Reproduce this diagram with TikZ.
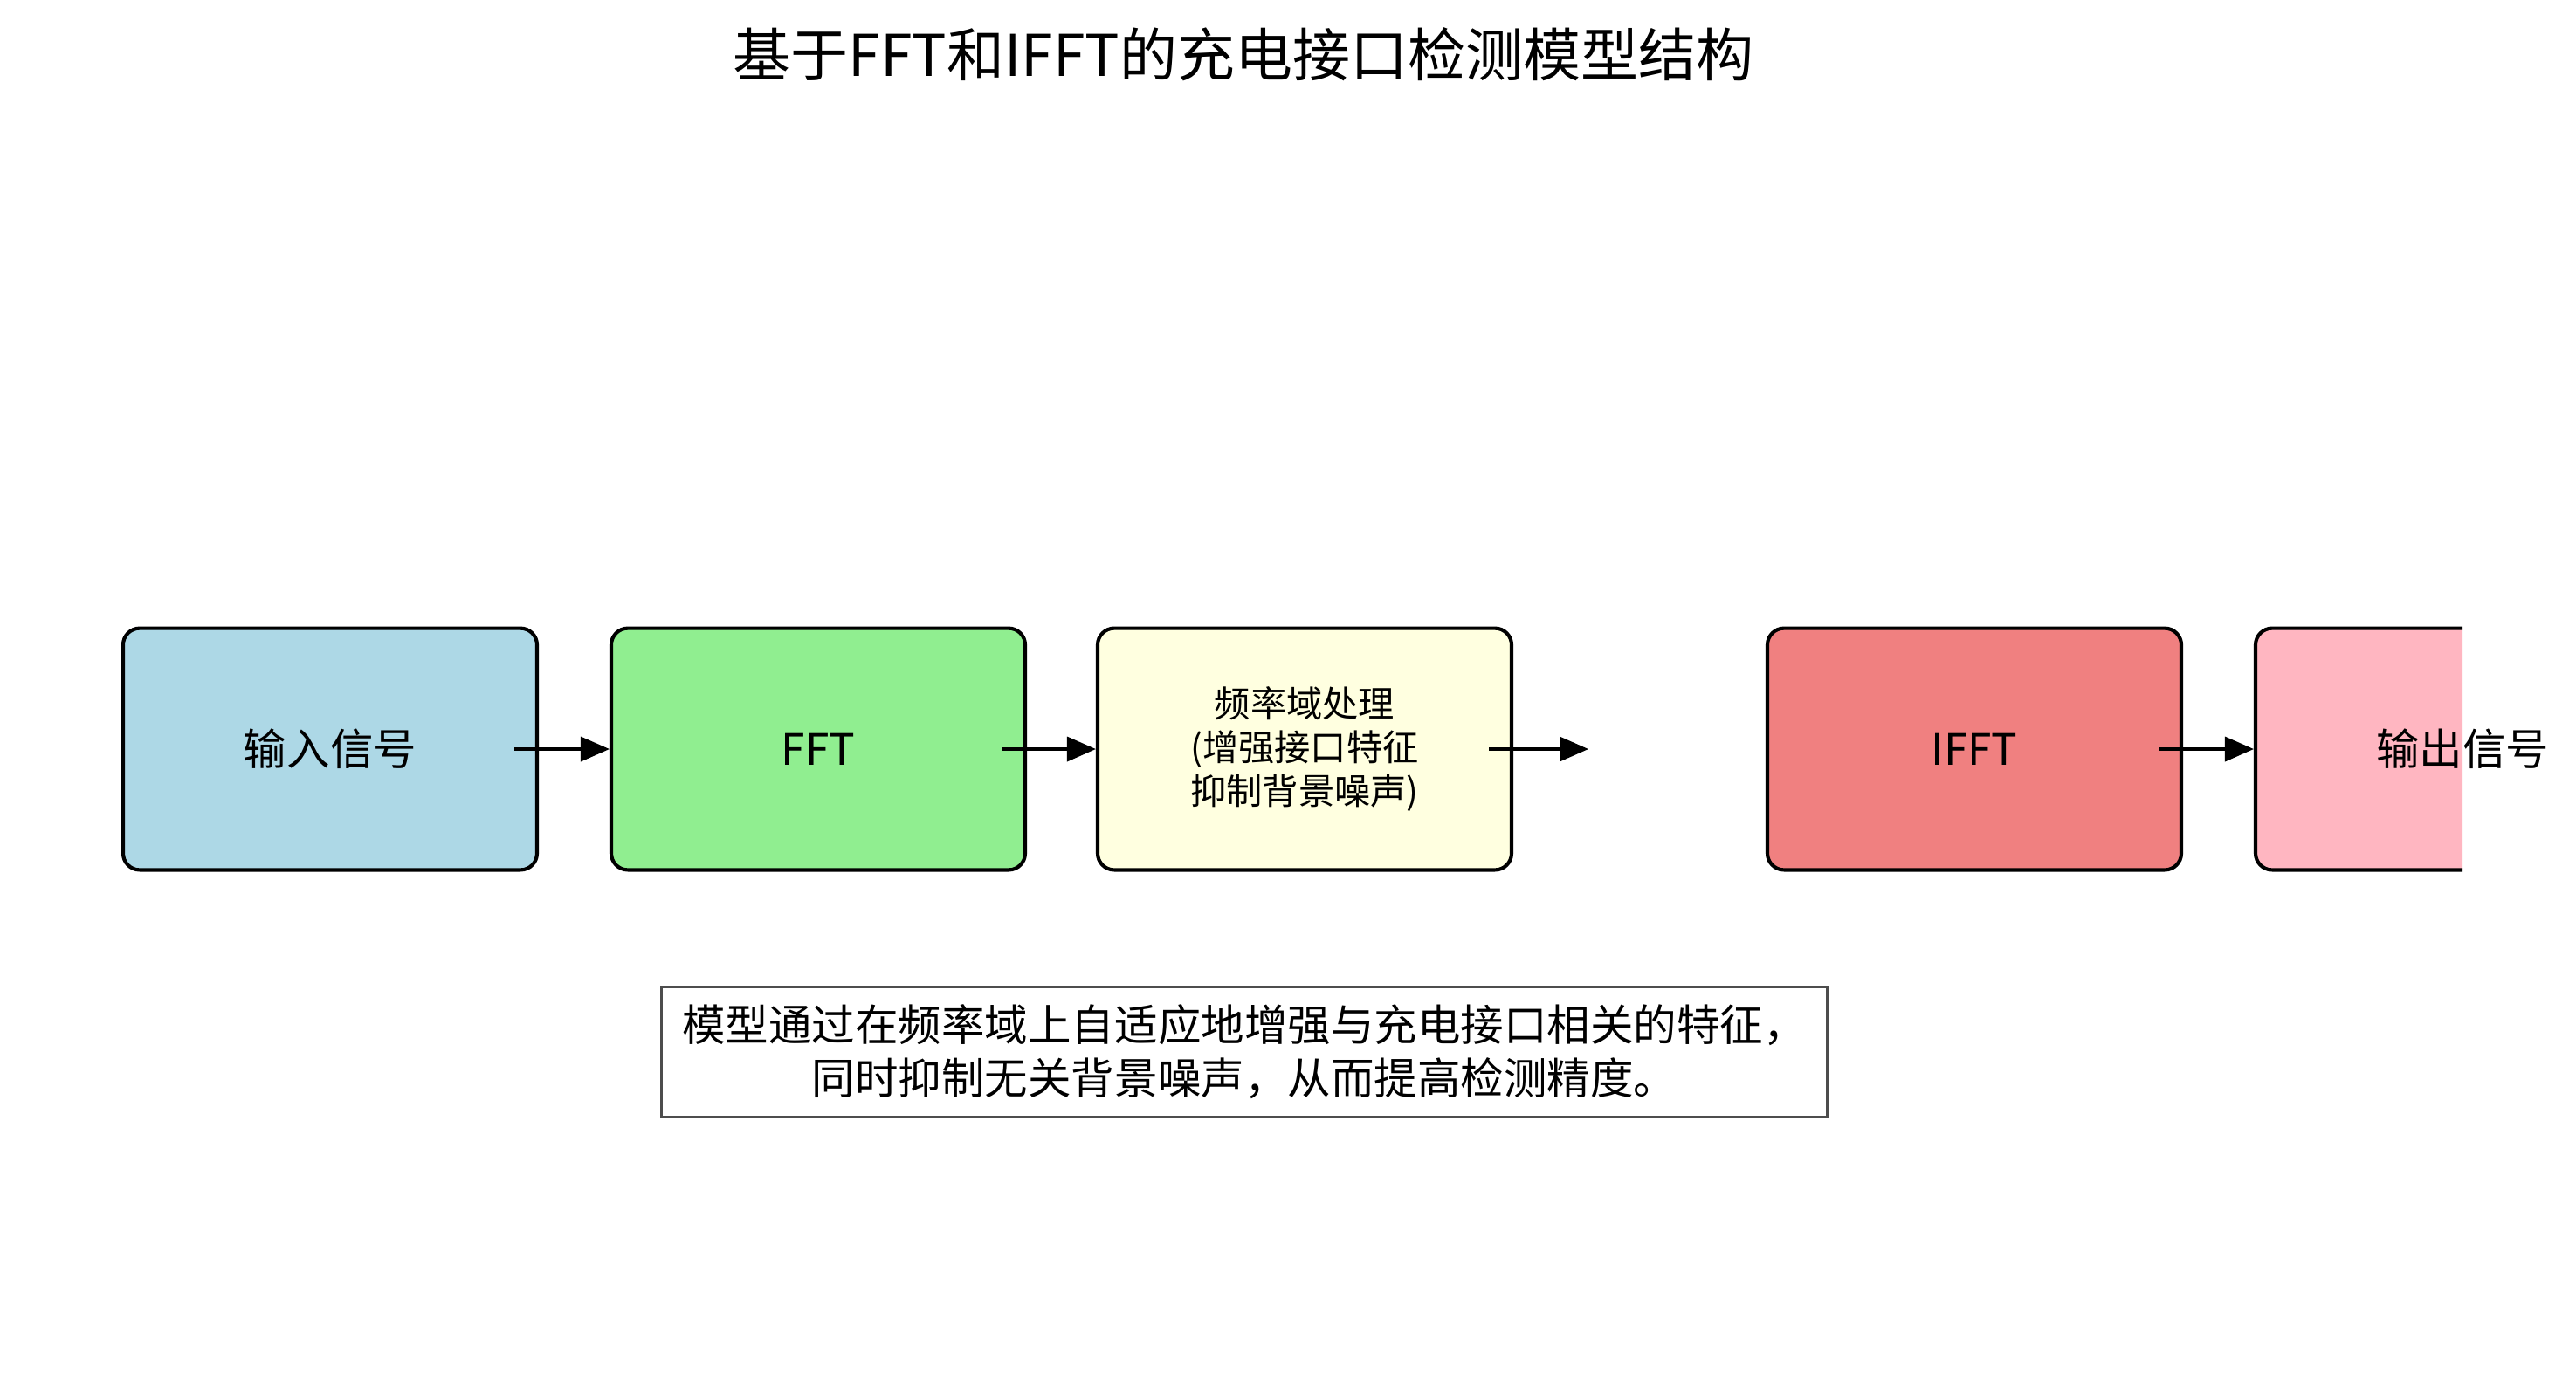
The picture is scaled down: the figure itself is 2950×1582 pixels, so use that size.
\documentclass[tikz,border=0pt]{standalone}
\usepackage{fontspec}
\setmainfont{Noto Sans CJK SC}
\usetikzlibrary{arrows.meta,calc}
\definecolor{cblue}{HTML}{ADD8E6}
\definecolor{cgreen}{HTML}{90EE90}
\definecolor{cyellow}{HTML}{FFFFE0}
\definecolor{ccoral}{HTML}{F08080}
\definecolor{cpink}{HTML}{FFB6C1}
\definecolor{cedge}{HTML}{4D4D4D}
\tikzset{
  blockbox/.style={draw=black, line width=1pt, rounded corners=4.6pt,
    minimum width=114.9pt, minimum height=67.1pt, inner sep=0pt,
    align=center, font=\fontsize{12}{14.5}\selectfont},
  flowarrow/.style={line width=0.85pt, -{Triangle[length=8pt,width=6.8pt]}},
  notebox/.style={draw=cedge, line width=0.75pt, minimum width=323.4pt,
    minimum height=36.1pt, inner sep=0pt, align=center,
    font=\fontsize{12}{14.8}\selectfont},
}
\begin{document}
\begin{tikzpicture}[x=0.2424pt,y=-0.2424pt]
\useasboundingbox (0,0) rectangle (2950,1582);
\node[font=\fontsize{16}{19}\selectfont] (title) at (1424,62) {基于FFT和IFFT的充电接口检测模型结构};
\node[blockbox, fill=cblue] (b1) at (378,858) {输入信号};
\node[blockbox, fill=cgreen] (b2) at (937,858) {FFT};
\node[blockbox, fill=cyellow, font=\fontsize{10}{12.1}\selectfont] (b3) at (1494,858) {频率域处理\\(增强接口特征\\抑制背景噪声)};
\node[blockbox, fill=ccoral] (b4) at (2261,858) {IFFT};
\begin{scope}
\clip (0,0) rectangle (2820,1582);
\node[blockbox, fill=cpink] (b5) at (2820,858) {};
\end{scope}
\node[font=\fontsize{12}{14.5}\selectfont] (b5t) at (b5.center) {输出信号};
\coordinate (free) at (1819,858);
\draw[flowarrow] ($(b1.east)+(-28,0)$) -- (b2.west);
\draw[flowarrow] ($(b2.east)+(-28,0)$) -- (b3.west);
\draw[flowarrow] ($(b3.east)+(-28,0)$) -- (free);
\draw[flowarrow] ($(b4.east)+(-28,0)$) -- (b5.west);
\node[notebox] (note) at (1425,1205) {模型通过在频率域上自适应地增强与充电接口相关的特征，\\同时抑制无关背景噪声，从而提高检测精度。};
\end{tikzpicture}
\end{document}
